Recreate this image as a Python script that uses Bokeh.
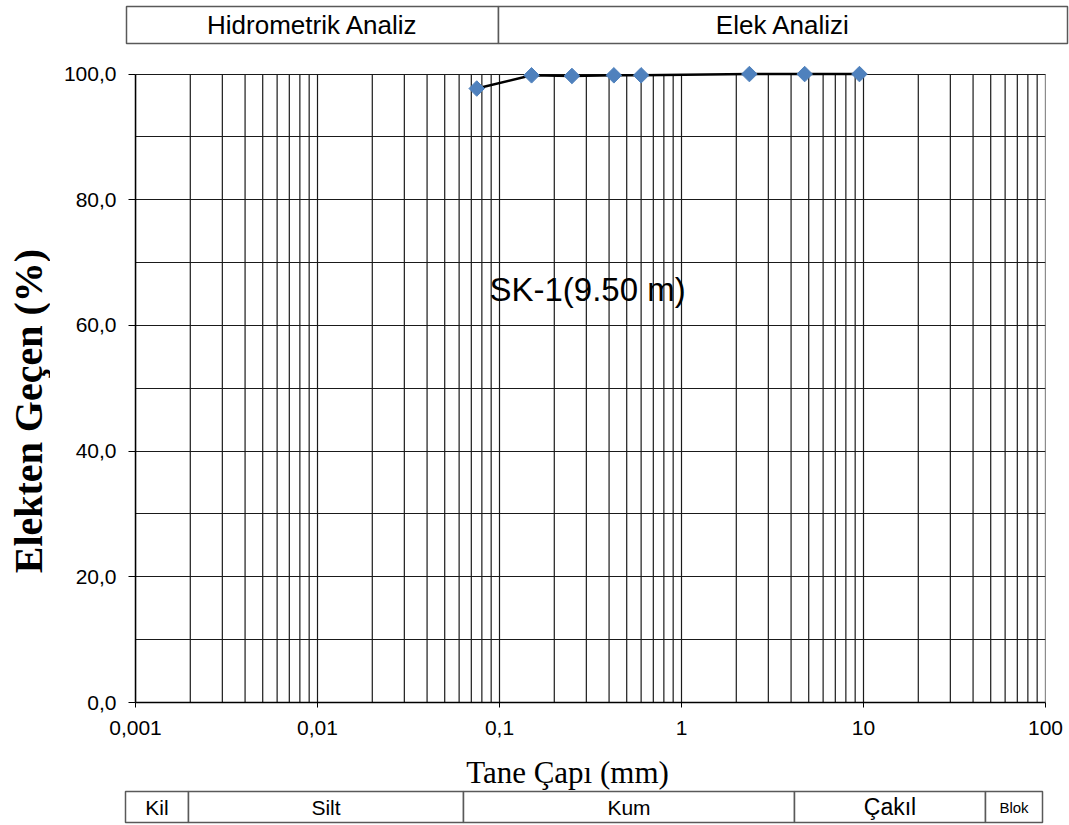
import numpy as np
from bokeh.plotting import figure
from bokeh.models import Range1d, FixedTicker, CustomJSTickFormatter, Label
from bokeh.layouts import column, row
from bokeh.core.properties import value
from bokeh.embed import file_html
from bokeh.resources import INLINE

# ---------------- data ----------------
grain_size_mm = [0.075, 0.15, 0.25, 0.425, 0.6, 2.36, 4.75, 9.5]
percent_passing = [97.7, 99.8, 99.7, 99.8, 99.8, 100.0, 100.0, 100.0]
x_ticks = [0.001, 0.01, 0.1, 1, 10, 100]
y_ticks = [0, 20, 40, 60, 80, 100]
y_grid = [0, 10, 20, 30, 40, 50, 60, 70, 80, 90, 100]
x_grid = [m * 10.0 ** e for e in range(-3, 2) for m in range(1, 10)] + [100]
sample_label = "SK-1(9.50 m)"
top_headers = ["Hidrometrik Analiz", "Elek Analizi"]
soil_classes = ["Kil", "Silt", "Kum", "Çakıl", "Blok"]
x_title = "Tane Çapı (mm)"
y_title = "Elekten Geçen (%)"

# ---------------- layout constants (pixels) ----------------
W = 1069
TOP_H = 50
MID_H = 695
BOT_H = 80
YFIG_W = 50
SANS = "Liberation Sans"
SERIF = "Liberation Serif"
BORDER = "#595959"
GRID = "#1a1a1a"

top_edges = [126, 498, 1067]
top_y = (6, 43)
bot_edges = [125, 188, 463, 794, 985, 1042]
bot_y = (46, 77)
bot_sizes = ["21px", "21px", "21px", "23px", "15px"]


def blank_fig(w, h):
    f = figure(width=w, height=h, x_range=Range1d(0, w), y_range=Range1d(h, 0),
               output_backend="svg", toolbar_location=None, min_border=0,
               x_axis_location=None, y_axis_location=None)
    f.grid.visible = False
    f.outline_line_color = None
    f.background_fill_color = "white"
    f.border_fill_color = "white"
    return f


# ---------------- top header table ----------------
top = blank_fig(W, TOP_H)
top.quad(left=top_edges[:-1], right=top_edges[1:], top=[top_y[0]] * 2, bottom=[top_y[1]] * 2,
         fill_color="white", line_color=BORDER, line_width=1.5)
top.text(x=[(a + b) / 2 for a, b in zip(top_edges[:-1], top_edges[1:])],
         y=[(top_y[0] + top_y[1]) / 2] * 2, text=top_headers,
         text_align="center", text_baseline="middle",
         text_font=value(SANS), text_font_size="26px", text_color="black")

# ---------------- y title ----------------
yfig = blank_fig(YFIG_W, MID_H)
yfig.text(x=[28], y=[379], text=[y_title], angle=np.pi / 2,
          text_align="center", text_baseline="middle",
          text_font=value(SERIF), text_font_style="bold", text_font_size="40px",
          text_color="black")

# ---------------- main chart ----------------
p = figure(width=W - YFIG_W, height=MID_H, x_axis_type="log",
           x_range=Range1d(0.001, 100), y_range=Range1d(0, 102),
           output_backend="svg", toolbar_location=None,
           min_border_left=85, min_border_right=24, min_border_top=11, min_border_bottom=43)
p.outline_line_color = None
p.background_fill_color = "white"
p.border_fill_color = "white"

p.xgrid.visible = False
p.ygrid.ticker = FixedTicker(ticks=y_grid)
p.ygrid.grid_line_color = GRID
p.ygrid.grid_line_width = 1.2

# vertical grid lines (limited to the 0-100 band)
p.segment(x0=x_grid, y0=[y_grid[0]] * len(x_grid), x1=x_grid, y1=[y_grid[-1]] * len(x_grid),
          line_color=GRID, line_width=1.2, level="underlay")

p.xaxis.ticker = FixedTicker(ticks=x_ticks)
p.xaxis.formatter = CustomJSTickFormatter(code="return String(tick).replace('.', ',');")
p.yaxis.ticker = FixedTicker(ticks=y_ticks)
p.yaxis.formatter = CustomJSTickFormatter(code="return tick.toFixed(1).replace('.', ',');")
p.yaxis.bounds = (y_ticks[0], y_ticks[-1])
for ax in (p.xaxis, p.yaxis):
    ax.axis_line_color = "black"
    ax.axis_line_width = 1.5
    ax.major_tick_line_color = "black"
    ax.major_tick_in = 0
    ax.minor_tick_line_color = None
    ax.major_label_text_font = SANS
    ax.major_label_text_font_size = "21px"
    ax.major_label_text_color = "black"
p.xaxis.major_tick_out = 5
p.xaxis.major_label_standoff = 13
p.yaxis.major_tick_out = 7
p.yaxis.major_label_standoff = 12

p.line(grain_size_mm, percent_passing, line_color="black", line_width=2.5)
p.scatter(grain_size_mm, percent_passing, marker="square", size=11, angle=np.pi / 4,
          fill_color="#4F81BD", line_color="#4F81BD")

p.add_layout(Label(x=0.0881, y=65.7, text=sample_label, text_font=SANS,
                   text_font_size="33px", text_color="black",
                   text_align="left", text_baseline="middle"))

# ---------------- bottom: x title + soil class table ----------------
bot = blank_fig(W, BOT_H)
bot.text(x=[567], y=[27], text=[x_title], text_align="center", text_baseline="middle",
         text_font=value(SERIF), text_font_size="31px", text_color="black")
n = len(soil_classes)
bot.quad(left=bot_edges[:-1], right=bot_edges[1:], top=[bot_y[0]] * n, bottom=[bot_y[1]] * n,
         fill_color="white", line_color=BORDER, line_width=1.5)
bot.text(x=[(a + b) / 2 for a, b in zip(bot_edges[:-1], bot_edges[1:])],
         y=[(bot_y[0] + bot_y[1]) / 2] * n, text=soil_classes,
         text_align="center", text_baseline="middle",
         text_font=value(SANS), text_font_size=bot_sizes, text_color="black")

layout = column(top, row(yfig, p), bot)
open("out.html", "w").write(file_html(layout, INLINE))
